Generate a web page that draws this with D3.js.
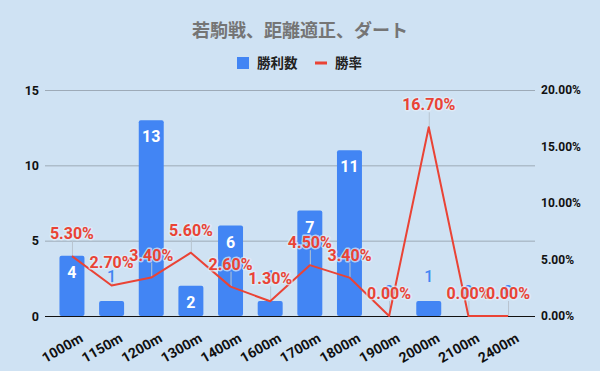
<!DOCTYPE html>
<html>
<head>
<meta charset="utf-8">
<script src="https://cdn.jsdelivr.net/npm/d3@7"></script>
<style>
  html, body { margin: 0; padding: 0; background: #cfe2f3; }
  svg { display: block; }
  text { font-family: Roboto, Arial, "Noto Sans CJK JP", sans-serif; }
</style>
</head>
<body>
<svg id="chart" width="600" height="371"></svg>
<script>
const title = "若駒戦、距離適正、ダート";
const categories = ["1000m","1150m","1200m","1300m","1400m","1600m","1700m","1800m","1900m","2000m","2100m","2400m"];
const wins = [4, 1, 13, 2, 6, 1, 7, 11, 0, 1, 0, 0];
const rates = [5.3, 2.7, 3.4, 5.6, 2.6, 1.3, 4.5, 3.4, 0.0, 16.7, 0.0, 0.0];
const leftTicks = [0, 5, 10, 15];
const rightTicks = [0, 5, 10, 15, 20];
const seriesNames = ["勝利数", "勝率"];

const svg = d3.select("#chart");
const W = 600, H = 371;
const plotLeft = 45, plotRight = 535, plotTop = 90, plotBottom = 316;
const barColor = "#4285f4", lineColor = "#ea4335";

svg.append("rect").attr("width", W).attr("height", H).attr("fill", "#cfe2f3");

const x = d3.scaleBand().domain(categories).range([plotLeft, plotRight])
  .paddingInner(0.37).paddingOuter(0.365);
const yL = d3.scaleLinear().domain([0, 15]).range([plotBottom, plotTop]);
const yR = d3.scaleLinear().domain([0, 20]).range([plotBottom, plotTop]);
const cx = d => x(d) + x.bandwidth() / 2;

// title
svg.append("text").attr("x", 300).attr("y", 37).attr("text-anchor", "middle")
  .attr("font-family", "'Noto Sans CJK JP', sans-serif")
  .attr("font-size", 18).attr("font-weight", "bold").attr("fill", "#757575")
  .text(title);

// legend
const lg = svg.append("g");
lg.append("rect").attr("x", 237).attr("y", 57).attr("width", 12).attr("height", 12).attr("fill", barColor);
lg.append("text").attr("x", 257).attr("y", 68).attr("font-size", 13.5).attr("font-weight", "bold")
  .attr("font-family", "'Noto Sans CJK JP', sans-serif").attr("fill", "#222").text(seriesNames[0]);
lg.append("rect").attr("x", 315).attr("y", 61.5).attr("width", 12).attr("height", 3).attr("fill", lineColor);
lg.append("text").attr("x", 335).attr("y", 68).attr("font-size", 13.5).attr("font-weight", "bold")
  .attr("font-family", "'Noto Sans CJK JP', sans-serif").attr("fill", "#222").text(seriesNames[1]);

// gridlines (left axis)
svg.append("g").selectAll("line").data(leftTicks.filter(t => t > 0)).join("line")
  .attr("x1", plotLeft).attr("x2", plotRight)
  .attr("y1", d => yL(d) + 0.5).attr("y2", d => yL(d) + 0.5)
  .attr("stroke", "#9daab7").attr("stroke-width", 1);

// left axis
const leftAxis = d3.axisLeft(yL).tickValues(leftTicks).tickSize(0).tickPadding(0).tickFormat(d3.format("d"));
const gL = svg.append("g").attr("transform", `translate(${plotLeft - 6},0)`).call(leftAxis);
gL.select(".domain").remove();
gL.selectAll("text").attr("font-size", 12.5).attr("font-weight", "bold").attr("fill", "#111")
  .attr("font-family", "Roboto, Arial, sans-serif");

// right axis
const rightAxis = d3.axisRight(yR).tickValues(rightTicks).tickSize(0).tickPadding(0)
  .tickFormat(d => d3.format(".2f")(d) + "%");
const gR = svg.append("g").attr("transform", `translate(${plotRight + 6},0)`).call(rightAxis);
gR.select(".domain").remove();
gR.selectAll("text").attr("font-size", 12).attr("font-weight", "bold").attr("fill", "#111")
  .attr("font-family", "Roboto, Arial, sans-serif");

// bars
svg.append("g").selectAll("rect").data(categories).join("rect")
  .attr("x", d => x(d)).attr("width", x.bandwidth())
  .attr("y", (d, i) => yL(wins[i])).attr("height", (d, i) => yL(0) - yL(wins[i]))
  .attr("rx", 2).attr("fill", barColor);

// baseline
svg.append("line").attr("x1", plotLeft).attr("x2", plotRight)
  .attr("y1", plotBottom + 0.5).attr("y2", plotBottom + 0.5).attr("stroke", "#111").attr("stroke-width", 1.2);

// x axis labels
const bottomAxis = d3.axisBottom(x).tickSize(0).tickPadding(0);
const gB = svg.append("g").attr("transform", `translate(0,${plotBottom})`).call(bottomAxis);
gB.select(".domain").remove();
gB.selectAll("text")
  .attr("font-size", 14).attr("font-weight", "bold").attr("fill", "#111")
  .attr("font-family", "Roboto, Arial, sans-serif")
  .attr("text-anchor", "end").attr("dy", null)
  .attr("transform", "translate(12,25) rotate(-30)");

// stems for line annotations
svg.append("g").selectAll("line").data(categories).join("line")
  .attr("x1", d => cx(d) + 0.5).attr("x2", d => cx(d) + 0.5)
  .attr("y1", (d, i) => yR(rates[i])).attr("y2", (d, i) => yR(rates[i]) - 15)
  .attr("stroke", "#b8c4cf").attr("stroke-width", 1);

// line
const line = d3.line().x((d, i) => cx(categories[i])).y(d => yR(d));
svg.append("path").datum(rates).attr("d", line)
  .attr("fill", "none").attr("stroke", lineColor).attr("stroke-width", 2).attr("stroke-linejoin", "round");

// bar value labels
svg.append("g").selectAll("text").data(categories).join("text")
  .attr("x", d => cx(d))
  .attr("y", (d, i) => wins[i] >= 2 ? yL(wins[i]) + 22 : yL(wins[i]) - 19)
  .attr("text-anchor", "middle").attr("font-size", 16)
  .attr("font-weight", (d, i) => wins[i] >= 2 ? "bold" : 500)
  .attr("fill", (d, i) => wins[i] >= 2 ? "#ffffff" : barColor)
  .text((d, i) => wins[i]);

// line value labels
svg.append("g").selectAll("text").data(categories).join("text")
  .attr("x", d => cx(d))
  .attr("y", (d, i) => yR(rates[i]) - 17)
  .attr("text-anchor", "middle").attr("font-size", 16).attr("font-weight", "bold")
  .attr("fill", lineColor)
  .attr("stroke", "#e4eef8").attr("stroke-width", 3).attr("stroke-opacity", 0.7)
  .attr("paint-order", "stroke").attr("stroke-linejoin", "round")
  .text((d, i) => d3.format(".2f")(rates[i]) + "%");
</script>
</body>
</html>
